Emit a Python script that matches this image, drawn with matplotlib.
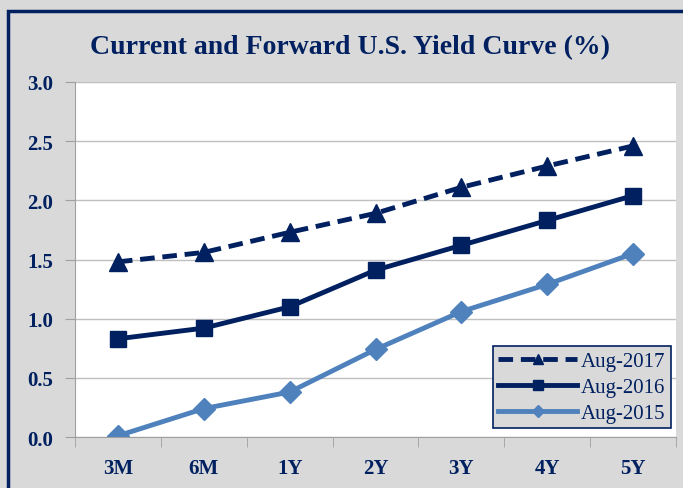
import matplotlib.pyplot as plt
from matplotlib.patches import Rectangle

# tenors and yields
tenors = ['3M', '6M', '1Y', '2Y', '3Y', '4Y', '5Y']
aug_2017 = [1.48, 1.56, 1.73, 1.89, 2.11, 2.29, 2.46]
aug_2016 = [0.83, 0.92, 1.10, 1.41, 1.62, 1.83, 2.04]
aug_2015 = [0.01, 0.24, 0.38, 0.74, 1.06, 1.29, 1.55]

navy = '#002060'
light = '#4f81bd'
bg = '#d9d9d9'

plt.rcParams['font.family'] = ['Liberation Serif', 'DejaVu Serif']

fig = plt.figure(figsize=(6.83, 4.89), dpi=100, facecolor=bg)
ax = fig.add_axes([75 / 683, 1 - 438 / 489, (676 - 75) / 683, (438 - 83) / 489])
ax.set_facecolor('white')

x = list(range(len(tenors)))
ax.plot(x, aug_2017, color=navy, lw=3.5, ls=(0, (3, 1.6)), marker='^', ms=13, label='Aug-2017')
ax.plot(x, aug_2016, color=navy, lw=3.5, marker='s', ms=12, label='Aug-2016')
ax.plot(x, aug_2015, color=light, lw=3.5, marker='D', ms=11, label='Aug-2015')

ax.set_xlim(-0.5, len(tenors) - 0.5)
ax.set_ylim(0, 3.0)
ax.set_yticks([0, 0.5, 1.0, 1.5, 2.0, 2.5, 3.0])
ax.set_yticklabels([f'{v:.1f}' for v in [0, 0.5, 1.0, 1.5, 2.0, 2.5, 3.0]])
ax.set_xticks(x)
ax.set_xticklabels(tenors)
ax.set_xticks([i - 0.5 for i in range(len(tenors) + 1)], minor=True)
ax.tick_params(axis='x', which='major', length=0, pad=15)
ax.tick_params(axis='x', which='minor', length=7, color='#a0a0a0', direction='out')
ax.tick_params(axis='y', length=7, color='#a0a0a0', pad=9)
for lab in ax.get_xticklabels() + ax.get_yticklabels():
    lab.set_fontsize(15)
    lab.set_fontweight('bold')
    lab.set_color(navy)

ax.grid(axis='y', color='#c0c0c0', lw=1)
ax.set_axisbelow(True)
for s in ['top', 'right']:
    ax.spines[s].set_visible(False)
for s in ['left', 'bottom']:
    ax.spines[s].set_color('#a0a0a0')

leg = ax.legend(loc='lower right', bbox_to_anchor=(671 / 683, 1 - 429 / 489), bbox_transform=fig.transFigure,
                frameon=True, fancybox=False, facecolor=bg, edgecolor=navy, framealpha=1,
                fontsize=15, handlelength=3.8, markerscale=0.55, borderaxespad=0, borderpad=0.25,
                labelspacing=0.3, handletextpad=0.2)
leg.get_frame().set_linewidth(1.2)
for t in leg.get_texts():
    t.set_color(navy)

fig.text(0.5 * (88 + 612) / 683, 1 - 48 / 489, 'Current and Forward U.S. Yield Curve (%)',
         ha='center', va='center', fontsize=20, fontweight='bold', color=navy)

fig.patches.append(Rectangle((8 / 683, -0.05), 1.1, 1 - 12 / 489 + 0.05, transform=fig.transFigure,
                             fill=False, edgecolor=navy, lw=2.5, clip_on=False))

fig.savefig('out.png', dpi=100, facecolor=bg)
